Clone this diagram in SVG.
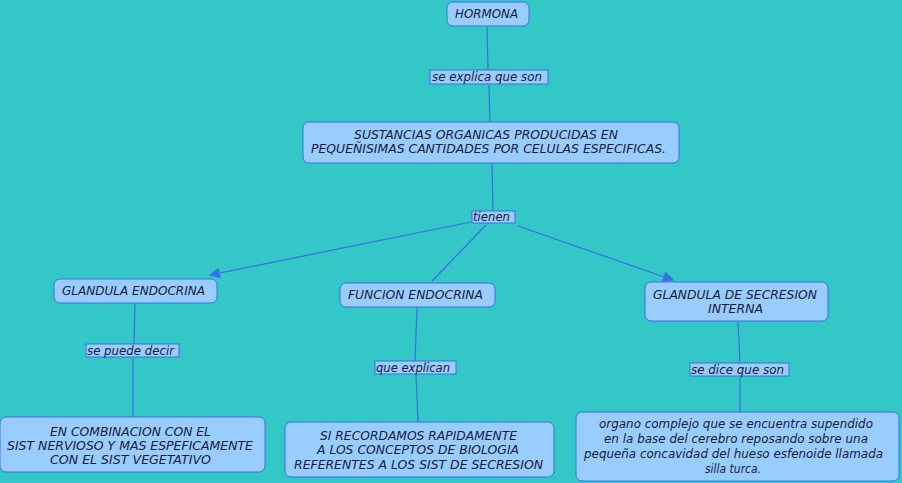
<svg xmlns="http://www.w3.org/2000/svg" width="902" height="483" viewBox="0 0 902 483">
<defs>
<style>
.n{fill:#99ccff;stroke:#3a6ee8;stroke-width:1}
.l{fill:#99ccff;stroke:#3a6ee8;stroke-width:1}
.c{stroke:#3a6ee8;stroke-width:1.2;fill:none}
text{font-family:"DejaVu Sans",Verdana,sans-serif;font-style:italic;font-size:12px;fill:#1a1c3a;text-anchor:middle}
</style>
<marker id="ar" viewBox="0 0 10 10" refX="9" refY="5" markerWidth="14" markerHeight="11" markerUnits="userSpaceOnUse" orient="auto">
<path d="M0,0 L10,5 L0,10 z" fill="#3a6ee8"/>
</marker>
</defs>
<rect width="902" height="483" fill="#33c7c7"/>
<g id="connectors">
<line class="c" x1="487" y1="27" x2="488" y2="70"/>
<line class="c" x1="489" y1="85" x2="490" y2="122"/>
<line class="c" x1="492" y1="164" x2="493" y2="211"/>
<line class="c" x1="471" y1="222" x2="210" y2="275" marker-end="url(#ar)"/>
<line class="c" x1="486" y1="225" x2="432" y2="281"/>
<line class="c" x1="518" y1="226" x2="673" y2="280" marker-end="url(#ar)"/>
<line class="c" x1="135" y1="304" x2="134" y2="344"/>
<line class="c" x1="133" y1="358" x2="133" y2="417"/>
<line class="c" x1="417" y1="308" x2="415" y2="361"/>
<line class="c" x1="416" y1="375" x2="418" y2="422"/>
<line class="c" x1="738" y1="322" x2="740" y2="363"/>
<line class="c" x1="740" y1="377" x2="740" y2="412"/>
</g>
<g id="hormona"><rect class="n" x="447" y="2" width="82" height="24" rx="6"/><text x="486.5" y="18" textLength="63" lengthAdjust="spacingAndGlyphs">HORMONA</text></g>
<g id="lbl1"><rect class="l" x="430" y="70" width="118" height="14"/><text x="487" y="81" textLength="110" lengthAdjust="spacingAndGlyphs">se explica que son</text></g>
<g id="sustancias"><rect class="n" x="303" y="122" width="376" height="41" rx="6"/><text x="486" y="139" textLength="264" lengthAdjust="spacingAndGlyphs">SUSTANCIAS ORGANICAS PRODUCIDAS EN</text><text x="488.5" y="153" textLength="355" lengthAdjust="spacingAndGlyphs">PEQUEÑISIMAS CANTIDADES POR CELULAS ESPECIFICAS.</text></g>
<g id="lbl2"><rect class="l" x="472" y="211" width="43" height="12"/><text x="491.5" y="221" textLength="37" lengthAdjust="spacingAndGlyphs">tienen</text></g>
<g id="glandula"><rect class="n" x="54" y="279" width="163" height="24" rx="6"/><text x="133.5" y="295" textLength="143" lengthAdjust="spacingAndGlyphs">GLANDULA ENDOCRINA</text></g>
<g id="funcion"><rect class="n" x="340" y="283" width="155" height="24" rx="6"/><text x="415.5" y="299" textLength="135" lengthAdjust="spacingAndGlyphs">FUNCION ENDOCRINA</text></g>
<g id="secresion"><rect class="n" x="645" y="282" width="183" height="39" rx="6"/><text x="735" y="299" textLength="164" lengthAdjust="spacingAndGlyphs">GLANDULA DE SECRESION</text><text x="735.5" y="313" textLength="55" lengthAdjust="spacingAndGlyphs">INTERNA</text></g>
<g id="lbl3"><rect class="l" x="86" y="344" width="93" height="13"/><text x="130.5" y="355" textLength="87" lengthAdjust="spacingAndGlyphs">se puede decir</text></g>
<g id="lbl4"><rect class="l" x="375" y="361" width="81" height="13"/><text x="413" y="372" textLength="74" lengthAdjust="spacingAndGlyphs">que explican</text></g>
<g id="lbl5"><rect class="l" x="690" y="363" width="99" height="13"/><text x="737.5" y="374" textLength="93" lengthAdjust="spacingAndGlyphs">se dice que son</text></g>
<g id="combinacion"><rect class="n" x="0" y="417" width="265" height="55" rx="6"/><text x="130.5" y="436" textLength="161" lengthAdjust="spacingAndGlyphs">EN COMBINACION CON EL</text><text x="130" y="450" textLength="246" lengthAdjust="spacingAndGlyphs">SIST NERVIOSO Y MAS ESPEFICAMENTE</text><text x="130.5" y="464" textLength="161" lengthAdjust="spacingAndGlyphs">CON EL SIST VEGETATIVO</text></g>
<g id="recordamos"><rect class="n" x="285" y="422" width="269" height="55" rx="6"/><text x="418.5" y="440" textLength="197" lengthAdjust="spacingAndGlyphs">SI RECORDAMOS RAPIDAMENTE</text><text x="418" y="454" textLength="202" lengthAdjust="spacingAndGlyphs">A LOS CONCEPTOS DE BIOLOGIA</text><text x="418.5" y="469" textLength="249" lengthAdjust="spacingAndGlyphs">REFERENTES A LOS SIST DE SECRESION</text></g>
<g id="organo"><rect class="n" x="576" y="412" width="323" height="69" rx="6"/><text x="736" y="428" textLength="274" lengthAdjust="spacingAndGlyphs">organo complejo que se encuentra supendido</text><text x="736" y="443" textLength="264" lengthAdjust="spacingAndGlyphs">en la base del cerebro reposando sobre una</text><text x="733.5" y="458" textLength="299" lengthAdjust="spacingAndGlyphs">pequeña concavidad del hueso esfenoide llamada</text><text x="733" y="473" textLength="56" lengthAdjust="spacingAndGlyphs">silla turca.</text></g>
</svg>
